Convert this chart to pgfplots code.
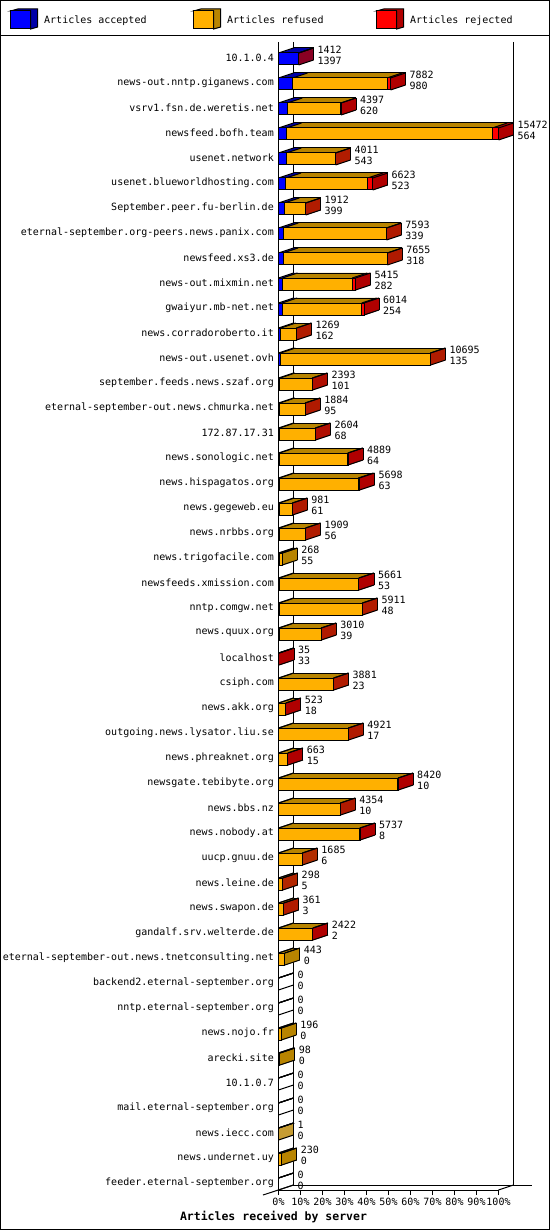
\documentclass[border=0pt]{standalone}
\usepackage{fontspec}
\setmainfont{DejaVu Sans Mono}
\usepackage{pgfplots}
\usepackage{pgfplotstable}
\pgfplotsset{compat=1.18}

\definecolor{accblue}{RGB}{0,0,255}
\definecolor{accdark}{RGB}{0,0,168}
\definecolor{refyel}{RGB}{255,176,0}
\definecolor{refdark}{RGB}{184,132,0}
\definecolor{rejred}{RGB}{255,0,0}
\definecolor{rejdark}{RGB}{176,0,0}

% tot = offered (upper number), acc = accepted (lower number), rej = rejected
\pgfplotstableread{
host tot acc rej
10.1.0.4 1412 1397 15
news-out.nntp.giganews.com 7882 980 250
vsrv1.fsn.de.weretis.net 4397 620 20
newsfeed.bofh.team 15472 564 440
usenet.network 4011 543 20
usenet.blueworldhosting.com 6623 523 350
September.peer.fu-berlin.de 1912 399 15
eternal-september.org-peers.news.panix.com 7593 339 20
newsfeed.xs3.de 7655 318 20
news-out.mixmin.net 5415 282 230
gwaiyur.mb-net.net 6014 254 160
news.corradoroberto.it 1269 162 15
news-out.usenet.ovh 10695 135 20
september.feeds.news.szaf.org 2393 101 20
eternal-september-out.news.chmurka.net 1884 95 20
172.87.17.31 2604 68 20
news.sonologic.net 4889 64 20
news.hispagatos.org 5698 63 100
news.gegeweb.eu 981 61 15
news.nrbbs.org 1909 56 15
news.trigofacile.com 268 55 0
newsfeeds.xmission.com 5661 53 20
nntp.comgw.net 5911 48 20
news.quux.org 3010 39 20
localhost 35 33 2
csiph.com 3881 23 20
news.akk.org 523 18 15
outgoing.news.lysator.liu.se 4921 17 20
news.phreaknet.org 663 15 15
newsgate.tebibyte.org 8420 10 20
news.bbs.nz 4354 10 20
news.nobody.at 5737 8 20
uucp.gnuu.de 1685 6 15
news.leine.de 298 5 10
news.swapon.de 361 3 10
gandalf.srv.welterde.de 2422 2 20
eternal-september-out.news.tnetconsulting.net 443 0 0
backend2.eternal-september.org 0 0 0
nntp.eternal-september.org 0 0 0
news.nojo.fr 196 0 0
arecki.site 98 0 0
10.1.0.7 0 0 0
mail.eternal-september.org 0 0 0
news.iecc.com 1 0 0
news.undernet.uy 230 0 0
feeder.eternal-september.org 0 0 0
}\feeds

\newcommand\gd{\fontsize{10}{12}\selectfont}

\newcommand\legcube[2]{%
  \filldraw[fill=#2, draw=black, line width=1pt] (0pt,9pt) -- (7pt,11pt) -- (27pt,11pt) -- (27pt,-7pt) -- (20pt,-9pt) -- (20pt,9pt) -- cycle;
  \filldraw[fill=#1, draw=black, line width=1pt] (0pt,-9pt) rectangle (20pt,9pt);
  \path (31pt,0pt);
}

\pgfplotsset{
  base/.style={scale only axis, width=220pt, height=1148pt,
    xmin=0, xmax=15472, ymin=0.76, ymax=46.68, clip=false,
    anchor=south west},
  cube/.style={xbar stacked, bar width=12pt},
}

\begin{document}
\begin{tikzpicture}
\useasboundingbox (0,0) rectangle (550pt,-1230pt);
\draw[line width=1pt] (0.5pt,-0.5pt) rectangle (549.5pt,-1229.5pt);
\draw[line width=1pt] (0pt,-35.5pt) -- (550pt,-35.5pt);
% back walls and floor
\draw[line width=1pt] (293.5pt,-42pt) -- (293.5pt,-1185pt) -- (532pt,-1185pt);
\draw[line width=1pt] (513.5pt,-42pt) -- (513.5pt,-1185pt);
\draw[line width=1pt] (263pt,-1195pt) -- (293.5pt,-1185pt);
\draw[line width=1pt] (498.5pt,-1190pt) -- (513.5pt,-1185pt);

% depth of the bars: copies stepped 1px right and 1/3px up
\foreach \k in {15,14,...,0}{
  \pgfmathsetmacro\capw{\k<15 ? 70.33 : 0}
  \begin{axis}[base, cube, hide axis, at={(278.5pt+\k pt,-1190pt+\k pt/3)},
      every axis plot/.append style={draw=none}]
    \addplot[fill=accdark] table[x=acc, y expr=46-\coordindex]{\feeds};
    \addplot[fill=refdark] table[x expr=\thisrow{tot}-\thisrow{acc}-\thisrow{rej}, y expr=46-\coordindex]{\feeds};
    \addplot[fill=rejdark] table[x=rej, y expr=46-\coordindex]{\feeds};
    \addplot[fill=accdark] table[x expr={(\thisrow{acc}>0 && \thisrow{tot}==\thisrow{acc}) ? \capw : 0}, y expr=46-\coordindex]{\feeds};
    \addplot[fill=refdark] table[x expr={(\thisrow{rej}==0 && \thisrow{tot}>\thisrow{acc}) ? \capw : 0}, y expr=46-\coordindex]{\feeds};
    \addplot[fill=rejdark] table[x expr={\thisrow{rej}>0 ? \capw : 0}, y expr=46-\coordindex]{\feeds};
  \end{axis}
}

% outline edges of the top and side faces, and the numbers
\begin{axis}[base, hide axis, at={(278.5pt,-1190pt)},
    every axis plot/.append style={black, line width=1pt, -}]
  \addplot[quiver={u=1055,v=0.2}] table[x expr=0, y expr=46.24-\coordindex]{\feeds};
  \addplot[quiver={u=1055,v=0.2}] table[x=acc, y expr=46.24-\coordindex]{\feeds};
  \addplot[quiver={u=1055,v=0.2}] table[x expr=\thisrow{tot}-\thisrow{rej}, y expr=46.24-\coordindex]{\feeds};
  \addplot[quiver={u=1055,v=0.2}] table[x=tot, y expr=46.24-\coordindex]{\feeds};
  \addplot[quiver={u=1055,v=0.2}] table[x=tot, y expr=45.76-\coordindex]{\feeds};
  \addplot[quiver={u=\thisrow{tot},v=0}] table[x expr=1055, y expr=46.44-\coordindex]{\feeds};
  \addplot[quiver={u=0,v=-0.48}] table[x expr=\thisrow{tot}+1055, y expr=46.44-\coordindex]{\feeds};
  \addplot[only marks, mark=none, point meta=explicit symbolic, nodes near coords,
    every node near coord/.append style={anchor=west, inner sep=0pt, xshift=18.5pt, yshift=9pt, font=\gd, black}]
    table[x=tot, y expr=46-\coordindex, meta=tot]{\feeds};
  \addplot[only marks, mark=none, point meta=explicit symbolic, nodes near coords,
    every node near coord/.append style={anchor=west, inner sep=0pt, xshift=18.5pt, yshift=-2pt, font=\gd, black}]
    table[x=tot, y expr=46-\coordindex, meta=acc]{\feeds};
\end{axis}

% front faces
\begin{axis}[base, cube, at={(278.5pt,-1190pt)},
    axis x line*=bottom, axis y line*=left,
    axis line style={line width=1pt, -},
    scaled x ticks=false,
    xtick={0,1547.2,3094.4,4641.6,6188.8,7736,9283.2,10830.4,12377.6,13924.8,15472},
    xticklabels={0\%,10\%,20\%,30\%,40\%,50\%,60\%,70\%,80\%,90\%,100\%},
    xtick style={line width=1pt, black},
    tick align=outside, major tick length=5pt,
    ytick={1,...,46}, ytick style={draw=none},
    yticklabel={\pgfmathtruncatemacro\r{45-\ticknum}\pgfplotstablegetelem{\r}{host}\of\feeds\pgfplotsretval},
    yticklabel style={anchor=east, inner sep=0pt, xshift=0.5pt, yshift=1pt},
    tick label style={font=\gd},
    xticklabel style={inner sep=0pt, yshift=-3pt},
    xlabel={\bfseries Articles received by server},
    xlabel style={font=\fontsize{11.5}{13}\selectfont, at={(axis description cs:-0.0227,-0.0235)}, anchor=center},
    every axis plot/.append style={draw=black, line width=1pt},
    legend columns=3,
    legend style={at={(axis description cs:-1.22045,1.02003)}, anchor=west,
      draw=none, fill=none, inner sep=0pt, font=\gd, column sep=0pt, cells={anchor=west}},
  ]
  \addplot[fill=accblue, legend image code/.code={\legcube{accblue}{accdark}}]
    table[x=acc, y expr=46-\coordindex]{\feeds};
  \addlegendentry{\makebox[147pt][l]{Articles accepted}}
  \addplot[fill=refyel, legend image code/.code={\legcube{refyel}{refdark}}]
    table[x expr=\thisrow{tot}-\thisrow{acc}-\thisrow{rej}, y expr=46-\coordindex]{\feeds};
  \addlegendentry{\makebox[147pt][l]{Articles refused}}
  \addplot[fill=rejred, legend image code/.code={\legcube{rejred}{rejdark}}]
    table[x=rej, y expr=46-\coordindex]{\feeds};
  \addlegendentry{\makebox[147pt][l]{Articles rejected}}
\end{axis}
\end{tikzpicture}
\end{document}
